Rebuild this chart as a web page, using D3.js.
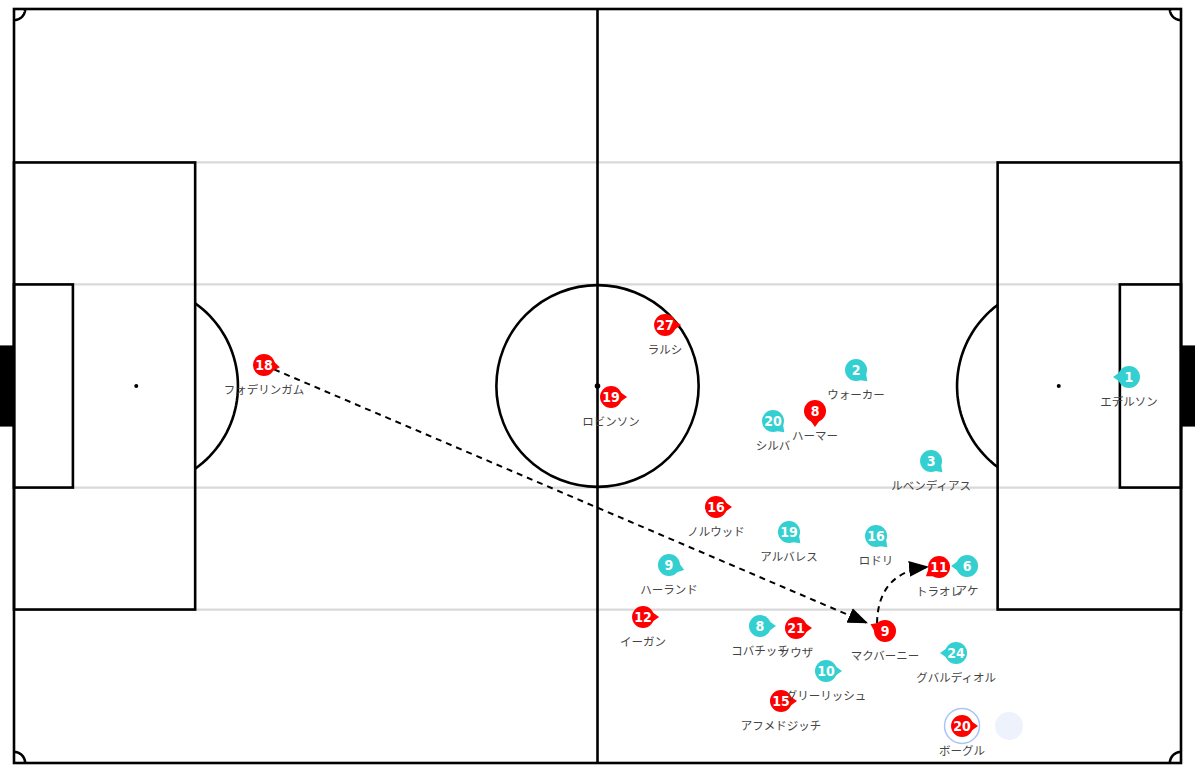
<!DOCTYPE html>
<html>
<head>
<meta charset="utf-8">
<script src="https://cdn.jsdelivr.net/npm/d3@7"></script>
<style>
html,body{margin:0;padding:0;background:#fff;}
svg{display:block;}
</style>
</head>
<body>
<svg id="chart" width="1200" height="772"></svg>
<script>
// ---- Data (pitch coordinates in metres, 105 x 68) ----
const homeNumbers = [18, 27, 19, 8, 16, 12, 21, 9, 11, 15, 20];
const homeNames = ["フォデリンガム", "ラルシ", "ロビンソン", "ハーマー", "ノルウッド", "イーガン", "ソウザ", "マクバーニー", "トラオレ", "アフメドジッチ", "ボーグル"];
const homeX = [22.49, 58.58, 53.72, 72.07, 63.16, 56.60, 70.36, 78.37, 83.23, 69.01, 85.30];
const homeY = [32.11, 28.50, 34.99, 36.26, 44.91, 54.83, 55.83, 56.10, 50.32, 62.41, 64.66];
const homeDir = [8, 0, 0, 90, 0, 0, 0, 205, 145, 0, 0];

const awayNumbers = [1, 2, 20, 3, 19, 16, 6, 9, 8, 10, 24];
const awayNames = ["エデルソン", "ウォーカー", "シルバ", "ルベンディアス", "アルバレス", "ロドリ", "アケ", "ハーランド", "コバチッチ", "グリーリッシュ", "グバルディオル"];
const awayX = [100.32, 75.76, 68.29, 82.51, 69.73, 77.56, 85.75, 58.93, 67.12, 73.06, 84.76];
const awayY = [33.19, 32.56, 37.16, 40.76, 47.17, 47.53, 50.23, 50.14, 55.65, 59.70, 58.08];
const awayDir = [180, 45, 45, 45, 45, 45, 180, 18, 0, 0, 180];

const ballCarrier = 20;          // home player highlighted
const ballSpot = [89.53, 64.66];  // light shaded spot next to carrier

const passStart = [22.49, 32.11];
const passEnd = [76.75, 55.37];
const carryStart = [77.65, 55.40];
const carryControl = [77.74, 50.78];
const carryEnd = [82.24, 50.32];

// ---- Setup ----
const svg = d3.select("#chart");
const x = d3.scaleLinear().domain([0, 105]).range([14, 1181]);
const y = d3.scaleLinear().domain([0, 68]).range([9, 763]);
const sx = m => x(m) - x(0);
const sy = m => y(m) - y(0);

const defs = svg.append("defs");
defs.append("marker")
  .attr("id", "arrow")
  .attr("markerUnits", "userSpaceOnUse")
  .attr("viewBox", "0 0 20 16")
  .attr("markerWidth", 20).attr("markerHeight", 16)
  .attr("refX", 19).attr("refY", 8)
  .attr("orient", "auto")
  .append("path").attr("d", "M0,0 L20,8 L0,16 Z").attr("fill", "#000");

const pitch = svg.append("g");
const lineCol = "#000", lw = 2.6;

// lanes (light grey)
const laneYs = [13.84, 24.84, 43.16, 54.16];
pitch.selectAll("line.lane").data(laneYs).enter().append("line")
  .attr("class", "lane")
  .attr("x1", x(0)).attr("x2", x(105))
  .attr("y1", d => y(d)).attr("y2", d => y(d))
  .attr("stroke", "#d9d9d9").attr("stroke-width", 2.2);

function rect(x0, y0, x1, y1) {
  pitch.append("rect")
    .attr("x", x(x0)).attr("y", y(y0))
    .attr("width", x(x1) - x(x0)).attr("height", y(y1) - y(y0))
    .attr("fill", "none")
    .attr("stroke", lineCol)
    .attr("stroke-width", lw);
}
// goals
pitch.append("rect").attr("x", 0).attr("y", y(30.34)).attr("width", x(0)).attr("height", y(37.66) - y(30.34)).attr("fill", "#000");
pitch.append("rect").attr("x", x(105)).attr("y", y(30.34)).attr("width", 14).attr("height", y(37.66) - y(30.34)).attr("fill", "#000");

// boxes
rect(0, 13.84, 16.3, 54.16);
rect(0, 24.84, 5.3, 43.16);
rect(88.5, 13.84, 105, 54.16);
rect(99.5, 24.84, 105, 43.16);
// half-way line
pitch.append("line").attr("x1", x(52.5)).attr("x2", x(52.5)).attr("y1", y(0)).attr("y2", y(68))
  .attr("stroke", lineCol).attr("stroke-width", lw);
// centre circle
pitch.append("ellipse").attr("cx", x(52.5)).attr("cy", y(34)).attr("rx", sx(9.1)).attr("ry", sy(9.1))
  .attr("fill", "none").attr("stroke", lineCol).attr("stroke-width", lw);
// spots
[[52.5, 34, 2.8], [11, 34, 2], [94, 34, 2]].forEach(s => {
  pitch.append("circle").attr("cx", x(s[0])).attr("cy", y(s[1])).attr("r", s[2]).attr("fill", "#000");
});
// penalty arcs
function arcPath(cxm, cym, r, a0, a1) {
  const pts = d3.range(0, 41).map(i => {
    const a = a0 + (a1 - a0) * i / 40;
    return [x(cxm + r * Math.cos(a)), y(cym + r * Math.sin(a))];
  });
  return d3.line()(pts);
}
const thL = Math.acos(5.3 / 9.15), thR = Math.acos(5.5 / 9.15);
pitch.append("path").attr("d", arcPath(11, 34, 9.15, -thL, thL))
  .attr("fill", "none").attr("stroke", lineCol).attr("stroke-width", lw);
pitch.append("path").attr("d", arcPath(94, 34, 9.15, Math.PI - thR, Math.PI + thR))
  .attr("fill", "none").attr("stroke", lineCol).attr("stroke-width", lw);
// corner arcs
[[0, 0, 0, Math.PI / 2], [105, 0, Math.PI / 2, Math.PI], [105, 68, Math.PI, 1.5 * Math.PI], [0, 68, 1.5 * Math.PI, 2 * Math.PI]].forEach(c => {
  pitch.append("path").attr("d", arcPath(c[0], c[1], 1, c[2], c[3]))
    .attr("fill", "none").attr("stroke", lineCol).attr("stroke-width", lw);
});
// outer boundary
rect(0, 0, 105, 68);

// ---- Events ----
const ev = svg.append("g");
ev.append("line")
  .attr("x1", x(passStart[0])).attr("y1", y(passStart[1]))
  .attr("x2", x(passEnd[0])).attr("y2", y(passEnd[1]))
  .attr("stroke", "#000").attr("stroke-width", 2).attr("stroke-dasharray", "6,5")
  .attr("marker-end", "url(#arrow)");
const cp = d3.path();
cp.moveTo(x(carryStart[0]), y(carryStart[1]));
cp.quadraticCurveTo(x(carryControl[0]), y(carryControl[1]), x(carryEnd[0]), y(carryEnd[1]));
ev.append("path").attr("d", cp.toString())
  .attr("fill", "none").attr("stroke", "#000").attr("stroke-width", 2).attr("stroke-dasharray", "6,5")
  .attr("marker-end", "url(#arrow)");

// ---- Players ----
const players = [];
homeNumbers.forEach((n, i) => players.push({team: "home", num: n, name: homeNames[i], px: homeX[i], py: homeY[i], dir: homeDir[i]}));
awayNumbers.forEach((n, i) => players.push({team: "away", num: n, name: awayNames[i], px: awayX[i], py: awayY[i], dir: awayDir[i]}));
const colors = {home: "#ff0000", away: "#33cfd1"};

// highlight
const carrier = players.find(p => p.team === "home" && p.num === ballCarrier);
svg.append("circle").attr("cx", x(ballSpot[0])).attr("cy", y(ballSpot[1])).attr("r", 14).attr("fill", "#eef2fd");
svg.append("circle").attr("cx", x(carrier.px)).attr("cy", y(carrier.py)).attr("r", 17.5)
  .attr("fill", "#fff").attr("stroke", "#abc5f5").attr("stroke-width", 1.5);

const R = 11;
const pg = svg.selectAll("g.player").data(players).enter().append("g")
  .attr("class", "player")
  .attr("transform", d => `translate(${x(d.px)},${y(d.py)})`);
pg.append("path")
  .attr("d", `M${R - 2},-5 L${R + 5},0 L${R - 2},5 Z`)
  .attr("transform", d => `rotate(${d.dir})`)
  .attr("fill", d => colors[d.team]);
pg.append("circle").attr("r", R).attr("fill", d => colors[d.team]);
pg.append("text")
  .attr("text-anchor", "middle").attr("dy", "0.36em")
  .attr("fill", "#fff")
  .style("font-family", "'Liberation Sans Narrow','DejaVu Sans Condensed',sans-serif")
  .style("font-weight", "bold").style("font-size", "14px")
  .text(d => d.num);
pg.append("text")
  .attr("text-anchor", "middle").attr("y", 24.5).attr("dy", "0.36em")
  .attr("fill", "#444")
  .style("font-family", "'Noto Sans CJK JP',sans-serif")
  .style("font-size", "11.5px")
  .text(d => d.name);
</script>
</body>
</html>
